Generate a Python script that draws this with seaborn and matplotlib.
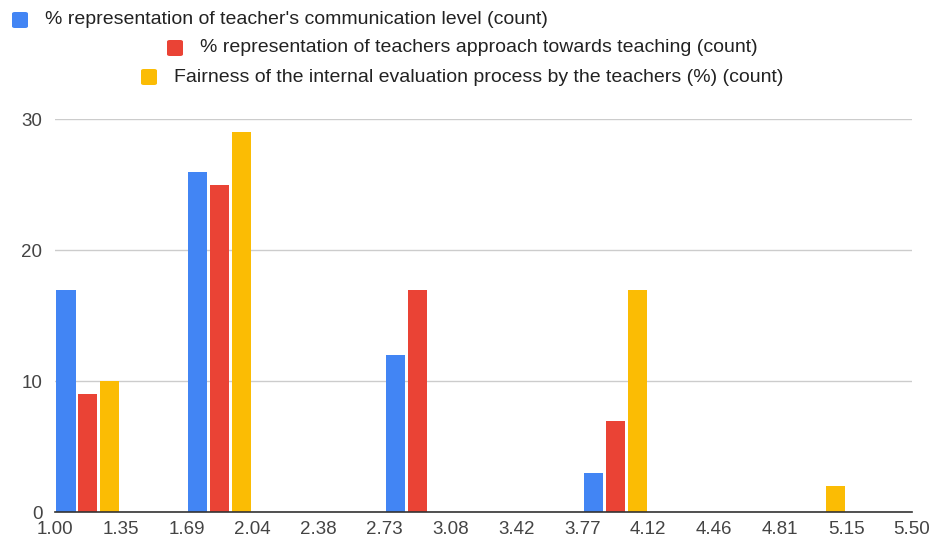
import numpy as np
import pandas as pd
import seaborn as sns
import matplotlib.pyplot as plt
from matplotlib.patches import FancyBboxPatch

# histogram bins (edges) and counts
edge_labels = ["1.00", "1.35", "1.69", "2.04", "2.38", "2.73", "3.08",
               "3.42", "3.77", "4.12", "4.46", "4.81", "5.15", "5.50"]
series = ["% representation of teacher's communication level (count)",
          "% representation of teachers approach towards teaching (count)",
          "Fairness of the internal evaluation process by the teachers (%) (count)"]
communication = [17, 0, 26, 0, 0, 12, 0, 0, 3, 0, 0, 0, 0]
approach = [9, 0, 25, 0, 0, 17, 0, 0, 7, 0, 0, 0, 0]
fairness = [10, 0, 29, 0, 0, 0, 0, 0, 17, 0, 0, 2, 0]

colors = ["#4285F4", "#EA4335", "#FBBC04"]

edges = np.linspace(1.0, 5.5, len(edge_labels))
centers = (edges[:-1] + edges[1:]) / 2

df = pd.DataFrame({
    "center": np.tile(centers, 3),
    "count": communication + approach + fairness,
    "series": np.repeat(series, len(centers)),
})

plt.rcParams['font.family'] = ['Liberation Sans', 'DejaVu Sans']

fig = plt.figure(figsize=(9.35, 5.41), dpi=100)
ax = fig.add_axes([0.0588, 0.053, 0.9166, 0.7265])

sns.barplot(data=df, x="center", y="count", hue="series", hue_order=series,
            palette=colors, saturation=1, native_scale=True, width=1.0,
            gap=0.13, linewidth=0, legend=False, ax=ax)

ax.set_xlim(1.0, 5.5)
ax.set_ylim(0, 30)
ax.set_xticks(edges)
ax.set_xticklabels(edge_labels)
ax.set_yticks([0, 10, 20, 30])
ax.tick_params(axis="both", length=0, labelsize=13.5, labelcolor="#444444")
ax.tick_params(axis="x", pad=6)
ax.tick_params(axis="y", pad=9)
ax.grid(axis="y", color="#cccccc", linewidth=1)
ax.set_axisbelow(True)
for s in ["top", "right", "left"]:
    ax.spines[s].set_visible(False)
ax.spines["bottom"].set_color("#333333")
ax.spines["bottom"].set_linewidth(1.2)
ax.set_xlabel("")
ax.set_ylabel("")

# legend rows, laid out as in the original
W, H = 935, 541
rows = [(12, 20), (167, 48), (141, 77)]
for (mx, my), label, c in zip(rows, series, colors):
    fig.patches.append(FancyBboxPatch(
        (mx / W, 1 - (my + 8) / H), 16 / W, 16 / H,
        boxstyle="round,pad=0,rounding_size=0.003",
        transform=fig.transFigure, facecolor=c, edgecolor="none"))
    fig.text((mx + 33) / W, 1 - my / H, label, fontsize=14.0,
             color="#222222", va="center", ha="left")

fig.savefig("out.png", dpi=100)
